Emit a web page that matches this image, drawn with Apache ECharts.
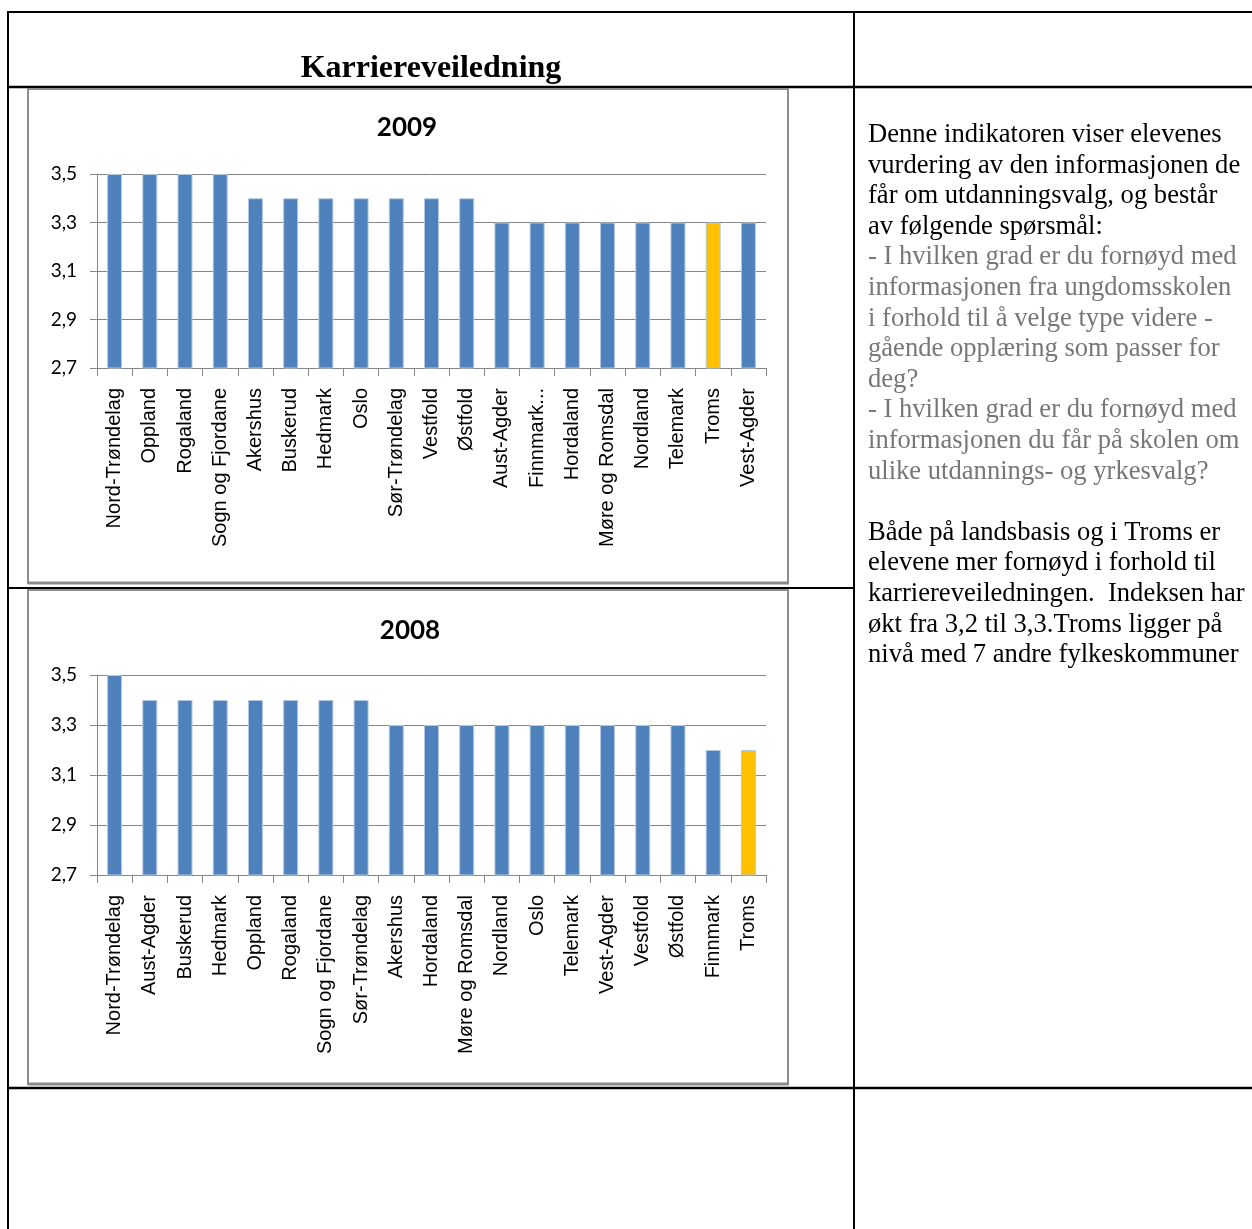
<!DOCTYPE html>
<html>
<head>
<meta charset="utf-8">
<script src="https://cdn.jsdelivr.net/npm/echarts@6/dist/echarts.min.js"></script>
<style>
html,body{margin:0;padding:0;background:#fff;}
#c{width:1252px;height:1229px;}
</style>
</head>
<body>
<div id="c"></div>
<script>
// ---- data ----
const categories2009 = ['Nord-Trøndelag','Oppland','Rogaland','Sogn og Fjordane','Akershus','Buskerud','Hedmark','Oslo','Sør-Trøndelag','Vestfold','Østfold','Aust-Agder','Finnmark...','Hordaland','Møre og Romsdal','Nordland','Telemark','Troms','Vest-Agder'];
const values2009 = [3.5,3.5,3.5,3.5,3.4,3.4,3.4,3.4,3.4,3.4,3.4,3.3,3.3,3.3,3.3,3.3,3.3,3.3,3.3];
const categories2008 = ['Nord-Trøndelag','Aust-Agder','Buskerud','Hedmark','Oppland','Rogaland','Sogn og Fjordane','Sør-Trøndelag','Akershus','Hordaland','Møre og Romsdal','Nordland','Oslo','Telemark','Vest-Agder','Vestfold','Østfold','Finnmark','Troms'];
const values2008 = [3.5,3.4,3.4,3.4,3.4,3.4,3.4,3.4,3.3,3.3,3.3,3.3,3.3,3.3,3.3,3.3,3.3,3.2,3.2];
const yTicks = [2.7, 2.9, 3.1, 3.3, 3.5];
const highlightCategory = 'Troms';
const chartTitles = ['2009', '2008'];

// ---- styling ----
const BLUE = '#4F81BD', GOLD = '#FFC000', GREY = '#868686';
const chart = echarts.init(document.getElementById('c'), null, {renderer: 'canvas'});

function barData(cats, vals) {
  return vals.map((v, i) => ({
    value: v,
    itemStyle: { color: cats[i] === highlightCategory ? GOLD : BLUE }
  }));
}
function xAxis(idx, cats) {
  return {
    type: 'category', gridIndex: idx, data: cats,
    axisLine: { show: true, lineStyle: { color: GREY, width: 1 } },
    axisTick: { show: true, length: 8, lineStyle: { color: GREY } },
    axisLabel: { rotate: 90, interval: 0, margin: 20, color: '#000',
      fontFamily: 'Liberation Sans', fontSize: 20 }
  };
}
function yAxis(idx) {
  return {
    type: 'value', gridIndex: idx,
    min: yTicks[0], max: yTicks[yTicks.length - 1], interval: 0.2,
    axisLine: { show: true, lineStyle: { color: GREY, width: 1 } },
    axisTick: { show: true, length: 7, lineStyle: { color: GREY } },
    splitLine: { show: true, lineStyle: { color: GREY, width: 1 } },
    axisLabel: { margin: 20, color: '#000', fontFamily: 'Lato', fontSize: 19,
      formatter: v => v.toFixed(1).replace('.', ',') }
  };
}

const black = { stroke: '#000', lineWidth: 2 };
function hline(x1, x2, y, st) { return { type: 'line', shape: { x1, y1: y, x2, y2: y }, style: st || black, silent: true }; }
function vline(x, y1, y2, st) { return { type: 'line', shape: { x1: x, y1, x2: x, y2 }, style: st || black, silent: true }; }

const graphics = [
  hline(7, 1252, 12), hline(7, 1252, 87, { stroke: '#000', lineWidth: 2.5 }), hline(7, 854, 588), hline(7, 1252, 1088, { stroke: '#000', lineWidth: 2.5 }),
  vline(8, 11, 1229), vline(854, 11, 1229),
  // chart panel frames
  { type: 'rect', shape: { x: 28, y: 89, width: 760, height: 494 }, style: { fill: 'none', stroke: '#8c8c8c', lineWidth: 2 }, silent: true },
  hline(28, 789, 583, { stroke: '#8c8c8c', lineWidth: 3 }),
  { type: 'rect', shape: { x: 28, y: 590, width: 760, height: 494 }, style: { fill: 'none', stroke: '#8c8c8c', lineWidth: 2 }, silent: true },
  hline(28, 789, 1084, { stroke: '#8c8c8c', lineWidth: 3 }),
  { type: 'text', style: { text: 'Karriereveiledning', x: 431, y: 69, font: 'bold 32px "Liberation Serif"', fill: '#000', textAlign: 'center', textVerticalAlign: 'middle' } }
];

const textLines = [
  ['Denne indikatoren viser elevenes', '#000'],
  ['vurdering av den informasjonen de', '#000'],
  ['får om utdanningsvalg, og består', '#000'],
  ['av følgende spørsmål:', '#000'],
  ['- I hvilken grad er du fornøyd med', '#777'],
  ['informasjonen fra ungdomsskolen', '#777'],
  ['i forhold til å velge type videre -', '#777'],
  ['gående opplæring som passer for', '#777'],
  ['deg?', '#777'],
  ['- I hvilken grad er du fornøyd med', '#777'],
  ['informasjonen du får på skolen om', '#777'],
  ['ulike utdannings- og yrkesvalg?', '#777'],
  ['', '#000'],
  ['Både på landsbasis og i Troms er', '#000'],
  ['elevene mer fornøyd i forhold til', '#000'],
  ['karriereveiledningen.  Indeksen har', '#000'],
  ['økt fra 3,2 til 3,3.Troms ligger på', '#000'],
  ['nivå med 7 andre fylkeskommuner', '#000']
];
textLines.forEach((l, i) => {
  if (!l[0]) return;
  graphics.push({ type: 'text', style: { text: l[0], x: 868, y: 135 + i * 30.6,
    font: '26.6px "Liberation Serif"', fill: l[1], textAlign: 'left', textVerticalAlign: 'middle' } });
});

chart.setOption({
  animation: false,
  title: [
    { text: chartTitles[0], left: 402, top: 110, textAlign: 'center',
      textStyle: { fontFamily: 'Lato', fontWeight: 'bold', fontSize: 26, color: '#000' } },
    { text: chartTitles[1], left: 405, top: 613, textAlign: 'center',
      textStyle: { fontFamily: 'Lato', fontWeight: 'bold', fontSize: 26, color: '#000' } }
  ],
  grid: [
    { left: 97, top: 174, width: 669, height: 194, containLabel: false },
    { left: 97, top: 675, width: 669, height: 200, containLabel: false }
  ],
  xAxis: [xAxis(0, categories2009), xAxis(1, categories2008)],
  yAxis: [yAxis(0), yAxis(1)],
  series: [
    { type: 'bar', xAxisIndex: 0, yAxisIndex: 0, barWidth: 15, data: barData(categories2009, values2009),
      itemStyle: { borderColor: '#b3c8e2', borderWidth: 1 } },
    { type: 'bar', xAxisIndex: 1, yAxisIndex: 1, barWidth: 15, data: barData(categories2008, values2008),
      itemStyle: { borderColor: '#b3c8e2', borderWidth: 1 } }
  ],
  graphic: graphics
});
</script>
</body>
</html>
